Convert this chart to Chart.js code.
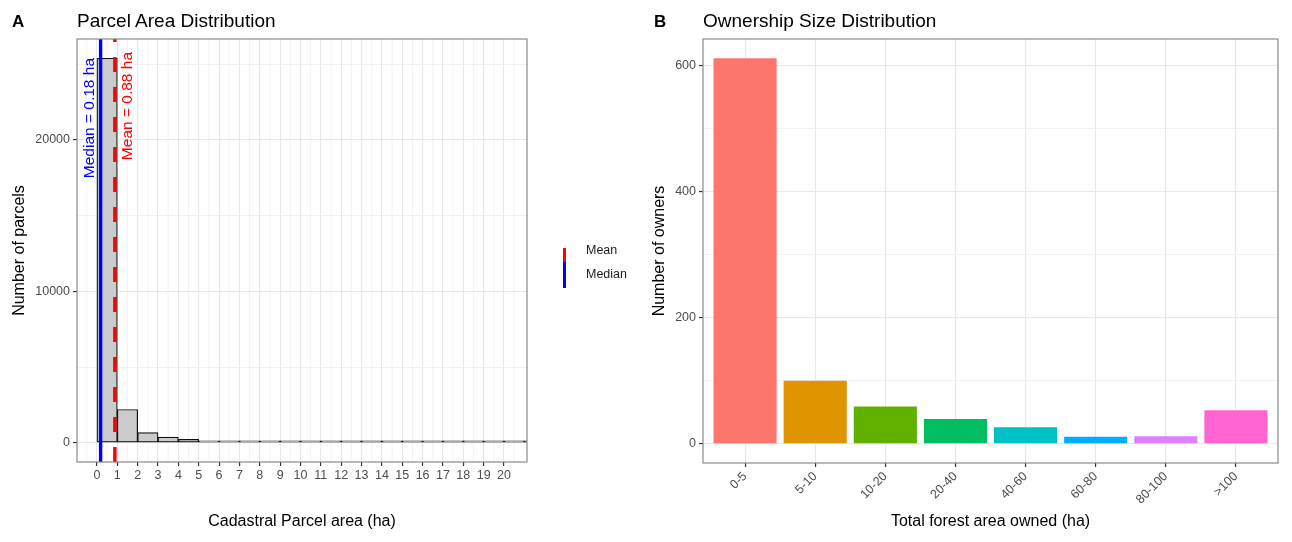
<!DOCTYPE html>
<html>
<head>
<meta charset="utf-8">
<title>Parcel area and ownership size</title>
<script src="https://cdn.jsdelivr.net/npm/chart.js@4.4.1/dist/chart.umd.min.js"></script>
<style>
  body { margin: 0; background: #fff; font-family: "Liberation Sans", Arial, sans-serif; }
  #wrap { position: relative; width: 1292px; height: 542px; overflow: hidden; }
  canvas { position: absolute; top: 0; }
  .tag { position: absolute; font-weight: bold; font-size: 17px; line-height: 1; color: #000; }
  .title { position: absolute; font-size: 19px; line-height: 1; color: #000; }
  .leg { position: absolute; font-size: 12.5px; line-height: 1; color: #1a1a1a; }
  .key { position: absolute; width: 3px; }
</style>
</head>
<body>
<div id="wrap">
  <canvas id="chartA" width="640" height="542" style="left:0"></canvas>
  <canvas id="chartB" width="652" height="542" style="left:640px"></canvas>
  <div class="tag" style="left:12px;top:12.6px">A</div>
  <div class="title" style="left:77px;top:11px">Parcel Area Distribution</div>
  <div class="tag" style="left:654px;top:12.6px">B</div>
  <div class="title" style="left:703px;top:11px">Ownership Size Distribution</div>
  <div class="key" style="left:563px;top:248px;height:14px;background:#ff0000"></div>
  <div class="key" style="left:563px;top:262px;height:26px;background:#0000ff"></div>
  <div class="leg" style="left:586px;top:244px">Mean</div>
  <div class="leg" style="left:586px;top:268px">Median</div>
</div>
<script>
// --- Panel A: parcel area histogram, 1 ha bins ---
const areaBinStarts = [0, 1, 2, 3, 4, 5, 6, 7, 8, 9, 10, 11, 12, 13, 14, 15, 16, 17, 18, 19, 20, 21];
const parcelCounts = [25400, 2200, 670, 370, 220, 120, 80, 60, 50, 40, 30, 20, 15, 12, 10, 8, 6, 5, 4, 3, 3, 2];
const areaTicks = [0, 1, 2, 3, 4, 5, 6, 7, 8, 9, 10, 11, 12, 13, 14, 15, 16, 17, 18, 19, 20];
const areaMinorTicks = [-0.5, 0.5, 1.5, 2.5, 3.5, 4.5, 5.5, 6.5, 7.5, 8.5, 9.5, 10.5, 11.5, 12.5, 13.5, 14.5, 15.5, 16.5, 17.5, 18.5, 19.5, 20.5];
const parcelTicks = [0, 10000, 20000];
const parcelMinorTicks = [5000, 15000, 25000];
const medianHa = 0.18;
const meanHa = 0.88;

// --- Panel B: owners per size class ---
const ownerClasses = ['0-5', '5-10', '10-20', '20-40', '40-60', '60-80', '80-100', '>100'];
const ownerCounts = [611, 100, 59, 39, 26, 11, 12, 53];
const ownerTicks = [0, 200, 400, 600];
const ownerMinorTicks = [100, 300, 500];

const ownerColors = ['#fc766c', '#e09400', '#60b000', '#00be60', '#00c1c6', '#00adff', '#e07fff', '#ff64d0'];

Chart.defaults.font.family = '"Liberation Sans", Arial, sans-serif';
Chart.defaults.color = '#4d4d4d';

const FONT_TICK = { size: 12.5 };
const FONT_AXIS = { size: 16 };
const GRID_MAJOR = '#e8e8e8';
const GRID_MINOR = '#f1f1f1';

// ggplot-ish panel: minor x grid under the data, frame on top
const panelFrame = {
  id: 'panelFrame',
  beforeDatasetsDraw(chart, args, opts) {
    const { ctx, chartArea: a, scales: { x } } = chart;
    if (!opts.minorX) return;
    ctx.save();
    ctx.strokeStyle = GRID_MINOR;
    ctx.lineWidth = 0.9;
    opts.minorX.forEach(v => {
      const px = x.getPixelForValue(v);
      ctx.beginPath(); ctx.moveTo(px, a.top); ctx.lineTo(px, a.bottom); ctx.stroke();
    });
    ctx.restore();
  },
  afterDraw(chart) {
    const { ctx, chartArea: a } = chart;
    ctx.save();
    ctx.strokeStyle = '#808080';
    ctx.lineWidth = 1.1;
    ctx.strokeRect(a.left, a.top, a.right - a.left, a.bottom - a.top);
    ctx.restore();
  }
};

// rotated text next to the mean / median lines
const vlineLabels = {
  id: 'vlineLabels',
  afterDatasetsDraw(chart, args, opts) {
    const { ctx, chartArea: a, scales: { x } } = chart;
    (opts.items || []).forEach(it => {
      ctx.save();
      ctx.translate(x.getPixelForValue(it.value) + it.dx, a.top + it.dy);
      ctx.rotate(-Math.PI / 2);
      ctx.font = '15.5px "Liberation Sans", Arial, sans-serif';
      ctx.fillStyle = it.color;
      ctx.textAlign = 'right';
      ctx.textBaseline = 'middle';
      ctx.fillText(it.text, 0, 0);
      ctx.restore();
    });
  }
};

const setTicks = (list) => (scale) => { scale.ticks = list.slice().sort((a, b) => a - b).map(v => ({ value: v })); };
const gridFor = (major) => ({
  color: c => (c.tick && major.includes(c.tick.value)) ? GRID_MAJOR : GRID_MINOR,
  lineWidth: c => (c.tick && major.includes(c.tick.value)) ? 1.1 : 0.9,
  tickColor: c => (c.tick && major.includes(c.tick.value)) ? '#333' : 'rgba(0,0,0,0)',
  tickLength: 4,
  tickWidth: 1.2,
  offset: false
});

// y limits with ggplot's 5% expansion
const yAMax = Math.max(...parcelCounts) * 1.05;
const yAMin = -Math.max(...parcelCounts) * 0.05;

new Chart(document.getElementById('chartA'), {
  type: 'bar',
  data: {
    datasets: [
      {
        type: 'line', label: 'Median',
        data: [{ x: medianHa, y: yAMin }, { x: medianHa, y: yAMax }],
        borderColor: '#0000ff', borderWidth: 3.4, pointRadius: 0, order: 0
      },
      {
        type: 'line', label: 'Mean',
        data: [{ x: meanHa, y: yAMin }, { x: meanHa, y: yAMax }],
        borderColor: '#ff0000', borderWidth: 3.4, borderDash: [15, 15], pointRadius: 0, order: 0
      },
      {
        type: 'bar', label: 'Parcels',
        data: areaBinStarts.map((s, i) => ({ x: s + 0.5, y: parcelCounts[i] })),
        backgroundColor: '#cbcbcb', borderColor: '#111', borderWidth: 1.2, borderSkipped: false,
        barPercentage: 1, categoryPercentage: 1, minBarLength: 2, order: 2
      }
    ]
  },
  options: {
    responsive: false, animation: false, devicePixelRatio: 1,
    layout: { padding: { left: 0, top: 39, right: 113, bottom: 0 } },
    plugins: {
      legend: { display: false }, tooltip: { enabled: false },
      panelFrame: { minorX: areaMinorTicks },
      vlineLabels: {
        items: [
          { value: medianHa, text: 'Median = ' + medianHa + ' ha', color: '#0000ff', dx: -11, dy: 19 },
          { value: meanHa, text: 'Mean = ' + meanHa + ' ha', color: '#ff0000', dx: 12.5, dy: 13 }
        ]
      }
    },
    scales: {
      x: {
        type: 'linear', min: -0.98, max: 21.13, offset: false,
        afterBuildTicks: setTicks(areaTicks),
        afterFit: s => { s.height = 80; },
        ticks: { font: FONT_TICK, padding: 2, autoSkip: false, maxRotation: 0, callback: v => String(v) },
        grid: gridFor(areaTicks),
        border: { display: false },
        title: { display: true, text: 'Cadastral Parcel area (ha)', color: '#000', font: FONT_AXIS, padding: { bottom: 11 } }
      },
      y: {
        type: 'linear', min: yAMin, max: yAMax,
        afterBuildTicks: setTicks(parcelTicks.concat(parcelMinorTicks)),
        afterFit: s => { s.width = 77; },
        ticks: { font: FONT_TICK, padding: 3, autoSkip: false, callback: v => parcelTicks.includes(v) ? String(v) : '' },
        grid: gridFor(parcelTicks),
        border: { display: false },
        title: { display: true, text: 'Number of parcels', color: '#000', font: FONT_AXIS, padding: { top: 10 } }
      }
    }
  },
  plugins: [panelFrame, vlineLabels]
});

const yBMax = Math.max(...ownerCounts) * 1.05;
const yBMin = -Math.max(...ownerCounts) * 0.05;

new Chart(document.getElementById('chartB'), {
  type: 'bar',
  data: {
    datasets: [{
      label: 'Owners',
      data: ownerCounts.map((v, i) => ({ x: i, y: v })),
      backgroundColor: ownerColors, borderWidth: 0,
      barPercentage: 0.9, categoryPercentage: 1
    }]
  },
  options: {
    responsive: false, animation: false, devicePixelRatio: 1,
    layout: { padding: { left: 0, top: 39, right: 14, bottom: 0 } },
    plugins: { legend: { display: false }, tooltip: { enabled: false }, panelFrame: {} },
    scales: {
      x: {
        type: 'linear', min: -0.6, max: ownerClasses.length - 0.4, offset: false,
        afterBuildTicks: setTicks(ownerClasses.map((_, i) => i)),
        afterFit: s => { s.height = 79; },
        ticks: { font: FONT_TICK, padding: 2, autoSkip: false, minRotation: 45, maxRotation: 45, callback: v => ownerClasses[v] },
        grid: gridFor(ownerClasses.map((_, i) => i)),
        border: { display: false },
        title: { display: true, text: 'Total forest area owned (ha)', color: '#000', font: FONT_AXIS, padding: { bottom: 11 } }
      },
      y: {
        type: 'linear', min: yBMin, max: yBMax,
        afterBuildTicks: setTicks(ownerTicks.concat(ownerMinorTicks)),
        afterFit: s => { s.width = 63; },
        ticks: { font: FONT_TICK, padding: 3, autoSkip: false, callback: v => ownerTicks.includes(v) ? String(v) : '' },
        grid: gridFor(ownerTicks),
        border: { display: false },
        title: { display: true, text: 'Number of owners', color: '#000', font: FONT_AXIS, padding: { top: 10 } }
      }
    }
  },
  plugins: [panelFrame]
});
</script>
</body>
</html>
